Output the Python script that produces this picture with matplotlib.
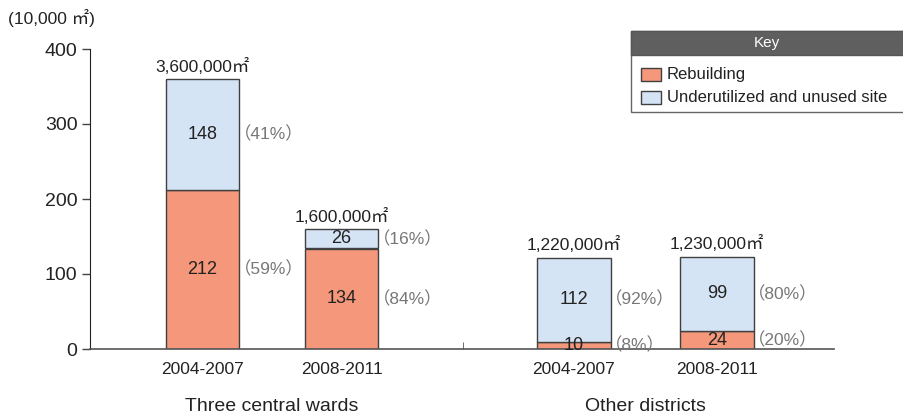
import numpy as np
import matplotlib
matplotlib.use("Agg")
import matplotlib.pyplot as plt
from matplotlib.patches import Rectangle

plt.rcParams['font.family'] = ['Liberation Sans', 'Noto Sans CJK JP', 'DejaVu Sans']

# data (10,000 m2)
periods = ['2004-2007', '2008-2011', '2004-2007', '2008-2011']
groups = ['Three central wards', 'Other districts']
rebuilding = np.array([212, 134, 10, 24])
unused = np.array([148, 26, 112, 99])

totals = rebuilding + unused
pct_reb = [round(r / t * 100) for r, t in zip(rebuilding, totals)]
pct_unu = [round(u / t * 100) for u, t in zip(unused, totals)]

c_reb = '#F4977A'
c_unu = '#D5E4F4'
edge = '#404040'

xpos = np.array([0.81, 1.81, 3.48, 4.51])
w = 0.53

fig = plt.figure(figsize=(9.04, 4.19), dpi=100)
ax = fig.add_axes([90 / 904, 70 / 419, 744 / 904, 300 / 419])

ax.bar(xpos, rebuilding, w, color=c_reb, edgecolor=edge, linewidth=1)
ax.bar(xpos, unused, w, bottom=rebuilding, color=c_unu, edgecolor=edge, linewidth=1)

for i in range(len(xpos)):
    # values inside the segments
    ax.text(xpos[i], rebuilding[i] / 2, str(rebuilding[i]), ha='center', va='center',
            fontsize=13, color='#222222')
    ax.text(xpos[i], rebuilding[i] + unused[i] / 2, str(unused[i]), ha='center', va='center',
            fontsize=13, color='#222222')
    # shares to the right
    ax.text(xpos[i] + w / 2 - 0.04, rebuilding[i] / 2, '（%d%%）' % pct_reb[i],
            ha='left', va='center', fontsize=12.5, color='#777777')
    ax.text(xpos[i] + w / 2 - 0.04, rebuilding[i] + unused[i] / 2, '（%d%%）' % pct_unu[i],
            ha='left', va='center', fontsize=12.5, color='#777777')
    # total area above the bar
    ax.text(xpos[i], totals[i] + 6, '{:,}㎡'.format(totals[i] * 10000), ha='center', va='bottom',
            fontsize=12.5, color='#222222')

ax.set_xlim(0, 744 / 139)
ax.set_ylim(0, 400)
ax.set_yticks([0, 100, 200, 300, 400])
ax.tick_params(axis='y', direction='out', length=6, width=1, labelsize=14, pad=3,
               color='#444444', labelcolor='#222222')
ax.set_xticks(xpos)
ax.set_xticklabels(periods)
ax.tick_params(axis='x', length=0, pad=9, labelsize=12.5, labelcolor='#222222')
ax.set_xticks([2.68], minor=True)
ax.tick_params(axis='x', which='minor', direction='in', length=5, color='#555555')

for s in ['top', 'right']:
    ax.spines[s].set_visible(False)
ax.spines['left'].set_color('#222222')
ax.spines['bottom'].set_color('#555555')
ax.spines['bottom'].set_linewidth(1.2)

# group names
for g, x in zip(groups, [xpos[:2].mean(), xpos[2:].mean()]):
    ax.text(x, -76, g, ha='center', va='center', fontsize=14, color='#222222')

fig.text(8 / 904, 1 - 18 / 419, '(10,000 ㎡)', ha='left', va='center', fontsize=12.5,
         color='#222222')

# key box
def fx(px):
    return px / 904

def fy(py):
    return 1 - py / 419

fig.patches.append(Rectangle((fx(631), fy(112)), fx(300), fy(31) - fy(112), transform=fig.transFigure,
                             facecolor='white', edgecolor='#666666', linewidth=1))
fig.patches.append(Rectangle((fx(631), fy(55)), fx(300), fy(31) - fy(55), transform=fig.transFigure,
                             facecolor='#5F5F5F', edgecolor='#555555', linewidth=1))
fig.text(fx(767), fy(43), 'Key', ha='center', va='center', fontsize=11, color='white')

for label, col, top in [('Rebuilding', c_reb, 68), ('Underutilized and unused site', c_unu, 91)]:
    fig.patches.append(Rectangle((fx(641), fy(top + 13)), fx(20), fy(top) - fy(top + 13),
                                 transform=fig.transFigure, facecolor=col, edgecolor=edge, linewidth=1))
    fig.text(fx(667), fy(top + 6.5), label, ha='left', va='center', fontsize=12, color='#222222')

fig.savefig('out.png', dpi=100)
